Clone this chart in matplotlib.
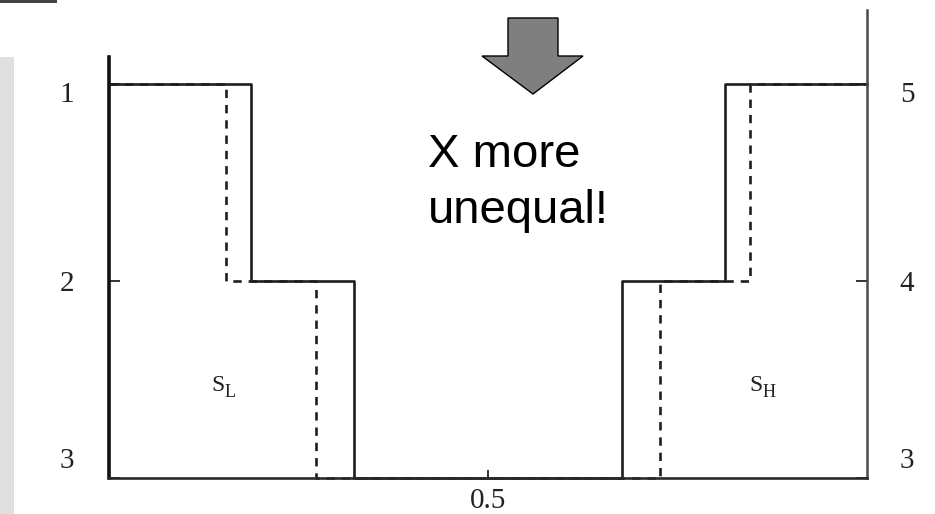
import matplotlib
matplotlib.use("Agg")
import matplotlib.pyplot as plt
from matplotlib.patches import Polygon, Rectangle

# step breakpoints along the unit interval
solid_x = [0.0, 0.187, 0.323, 0.677, 0.813, 1.0]
dashed_x = [0.0, 0.154, 0.273, 0.727, 0.846, 1.0]
levels = [1, 2, 3, 2, 1, 1]

left_labels = ["1", "2", "3"]
right_labels = ["5", "4", "3"]
tick_levels = [1, 2, 3]
x_ticks = [0.5]
x_tick_labels = ["0.5"]

W, H = 935, 514
fig = plt.figure(figsize=(W / 100, H / 100), dpi=100)
plt.rcParams['lines.scale_dashes'] = False


def fx(px):
    return px / W


def fy(py):
    return 1 - py / H


# axes spans 109..867 px horizontally, 10..478 px vertically
ax = fig.add_axes([fx(109), fy(478), fx(867) - fx(109), fy(10) - fy(478)])
ax.set_xlim(0, 1)
ax.set_ylim(3, 0.624)

ax.step(solid_x, levels, where='post', color='#1e1e1e', lw=1.9, clip_on=False)
ax.step(dashed_x, levels, where='post', color='#1e1e1e', lw=1.9,
        dashes=(6, 5), clip_on=False)

ax.spines['top'].set_visible(False)
ax.spines['left'].set_bounds(0.863, 3)
ax.spines['left'].set_linewidth(2.6)
ax.spines['left'].set_color('#111111')
ax.spines['right'].set_linewidth(1.8)
ax.spines['right'].set_color('#4a4a4a')
ax.spines['bottom'].set_linewidth(1.9)
ax.spines['bottom'].set_color('#2a2a2a')

ax.set_yticks(tick_levels)
ax.tick_params(axis='y', direction='in', length=8, width=1.4, color='#333333',
               left=True, right=True, labelleft=False, labelright=False)
ax.set_xticks(x_ticks, labels=x_tick_labels)
ax.tick_params(axis='x', direction='in', length=6, width=1.4, color='#333333',
               pad=7, labelsize=21, labelcolor='#222222')
for lab in ax.get_xticklabels():
    lab.set_fontfamily('Liberation Serif')

# tick labels drawn beside the axes
label_y_px = [95, 284, 461]
serif = dict(family='Liberation Serif', fontsize=21, color='#222222',
             ha='center', va='center')
for lab, py in zip(left_labels, label_y_px):
    fig.text(fx(67), fy(py), lab, **serif)
for lab, py in zip(right_labels, label_y_px):
    fig.text(fx(907), fy(py), lab, **serif)

# region labels
for xc, sub in [(0.146, "L"), (0.856, "H")]:
    ax.text(xc + 0.006, 2.56, "S", family='Liberation Serif', fontsize=17,
            color='#222222', ha='right', va='baseline')
    ax.text(xc + 0.006, 2.59, sub, family='Liberation Serif', fontsize=13,
            color='#222222', ha='left', va='baseline')

# annotation arrow and text
arrow_px = [(508, 18), (558, 18), (558, 56), (583, 56), (533, 94),
            (482, 56), (508, 56)]
fig.patches.append(Polygon([(fx(x), fy(y)) for x, y in arrow_px], closed=True,
                           facecolor='#7f7f7f', edgecolor='black', lw=1,
                           transform=fig.transFigure))
fig.text(fx(428), fy(167), "X more", family='Liberation Sans', fontsize=34,
         ha='left', va='baseline')
fig.text(fx(428), fy(223), "unequal!", family='Liberation Sans', fontsize=34,
         ha='left', va='baseline')

# slide decoration
fig.patches.append(Rectangle((0, fy(H)), fx(14), fy(57) - fy(H),
                             facecolor='#e0e0e0', edgecolor='none',
                             transform=fig.transFigure))
fig.patches.append(Rectangle((0, fy(2.5)), fx(57), fy(0) - fy(2.5),
                             facecolor='#444444', edgecolor='none',
                             transform=fig.transFigure))

fig.savefig("out.png", dpi=100)
